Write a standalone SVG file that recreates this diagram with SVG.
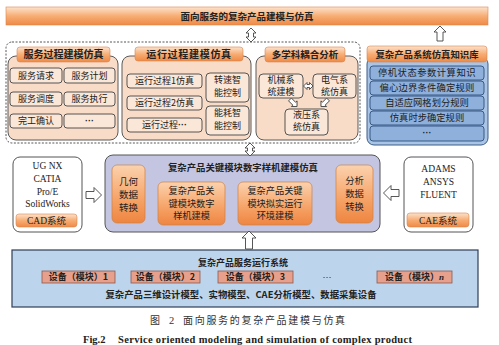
<svg xmlns="http://www.w3.org/2000/svg" width="499" height="345" viewBox="0 0 499 345">
<defs>
<linearGradient id="og" x1="0" y1="0" x2="0" y2="1">
<stop offset="0" stop-color="#fde3cd"/>
<stop offset="0.5" stop-color="#f7ad74"/>
<stop offset="1" stop-color="#ef8a45"/>
</linearGradient>
<linearGradient id="og2" x1="0" y1="0" x2="0" y2="1">
<stop offset="0" stop-color="#fbd2ae"/>
<stop offset="0.6" stop-color="#f6a266"/>
<stop offset="1" stop-color="#ee8540"/>
</linearGradient>
<style>
.t{font-family:"Noto Sans CJK SC","Noto Sans",sans-serif;font-size:9px;fill:#222;text-anchor:middle}
.b{font-weight:bold}
.d{font-family:"Liberation Sans",sans-serif;font-size:9px;fill:#222;text-anchor:middle;font-weight:bold}
.s{font-family:"Liberation Serif","Noto Sans CJK SC",serif;font-size:9.5px;fill:#222;text-anchor:middle}
.grp{fill:#f9dcc8;stroke:#5a5a5a;stroke-width:1}
.item{fill:#fbe7d8;stroke:#444;stroke-width:0.9}
.pill{fill:url(#og);stroke:#d98550;stroke-width:0.6}
.oitem{fill:url(#og2);stroke:#c9824c;stroke-width:0.7}
.kb{fill:#a9c4e4;stroke:#3d5f8a;stroke-width:1}
.kitem{fill:#8fb0da;stroke:#2c4f7c;stroke-width:0.9}
.dev{fill:#e6a08c;stroke:#8a5a50;stroke-width:0.8}
.arr{fill:#fff;stroke:#444;stroke-width:0.9}
</style>
</defs>
<rect width="499" height="345" fill="#fff"/>

<g id="top-bar">
<rect x="6" y="7" width="482" height="18" class="pill"/>
<text x="247" y="20" class="t b" style="font-size:9.5px">面向服务的复杂产品建模与仿真</text>
</g>

<g id="modeling-area">
<rect x="6" y="42" width="354" height="101" rx="6" fill="none" stroke="#444" stroke-width="0.9" stroke-dasharray="2 1.5"/>
</g>

<g id="service-process">
<rect x="8" y="56" width="110" height="84" rx="8" class="grp"/>
<rect x="17" y="47" width="93" height="15" rx="3" class="pill"/>
<text x="63.5" y="58" class="t b" style="font-size:10px">服务过程建模仿真</text>
<rect x="10" y="68" width="52" height="15" rx="3" class="item"/>
<text x="36" y="78.7" class="t">服务请求</text>
<rect x="64" y="68" width="51" height="15" rx="3" class="item"/>
<text x="89.5" y="78.7" class="t">服务计划</text>
<rect x="10" y="92" width="52" height="14" rx="3" class="item"/>
<text x="36" y="102.2" class="t">服务调度</text>
<rect x="64" y="92" width="51" height="14" rx="3" class="item"/>
<text x="89.5" y="102.2" class="t">服务执行</text>
<rect x="10" y="114" width="52" height="14" rx="3" class="item"/>
<text x="36" y="124.2" class="t">完工确认</text>
<rect x="64" y="114" width="51" height="14" rx="3" class="item"/>
<text x="89.5" y="123.5" class="d">···</text>
</g>

<g id="run-process">
<rect x="122" y="56" width="129" height="84" rx="8" class="grp"/>
<rect x="135" y="47" width="108" height="14" rx="3" class="pill"/>
<text x="189" y="57.6" class="t b" style="font-size:10px;letter-spacing:0.7px">运行过程建模仿真</text>
<rect x="127" y="74" width="75" height="14" rx="3" class="item"/>
<text x="164.5" y="84.2" class="t">运行过程1仿真</text>
<rect x="127" y="96" width="75" height="14" rx="3" class="item"/>
<text x="164.5" y="106.2" class="t">运行过程2仿真</text>
<rect x="127" y="118" width="75" height="14" rx="3" class="item"/>
<text x="164.5" y="128.2" class="t">运行过程<tspan font-family="Liberation Sans" font-weight="bold">···</tspan></text>
<rect x="206" y="73" width="43" height="29" rx="4" class="item"/>
<text x="227.5" y="83.3" class="t">转速智</text>
<text x="227.5" y="96.3" class="t">能控制</text>
<rect x="206" y="106" width="43" height="29" rx="4" class="item"/>
<text x="227.5" y="116.3" class="t">能耗智</text>
<text x="227.5" y="129.3" class="t">能控制</text>
</g>

<g id="multi-discipline">
<rect x="256" y="56" width="102" height="84" rx="8" class="grp"/>
<rect x="265" y="47" width="80" height="15" rx="3" class="pill"/>
<text x="305" y="58" class="t b" style="font-size:9.5px">多学科耦合分析</text>
<rect x="259" y="74" width="44" height="24" rx="4" class="item"/>
<text x="281" y="83.3" class="t">机械系</text>
<text x="281" y="95.3" class="t">统建模</text>
<rect x="313" y="74" width="43" height="24" rx="4" class="item"/>
<text x="334.5" y="83.3" class="t">电气系</text>
<text x="334.5" y="95.3" class="t">统仿真</text>
<rect x="285" y="109" width="43" height="26" rx="4" class="item"/>
<text x="306.5" y="118.3" class="t">液压系</text>
<text x="306.5" y="130.3" class="t">统仿真</text>
</g>

<g id="knowledge-base">
<rect x="367" y="57" width="121" height="88" rx="7" class="kb"/>
<rect x="367" y="46" width="120" height="16" rx="3" class="pill"/>
<text x="427" y="57.5" class="t b" style="font-size:9.4px">复杂产品系统仿真知识库</text>
<rect x="370" y="66" width="114" height="14" rx="3" class="kitem"/>
<text x="427" y="76.2" class="t" style="font-size:9.3px;letter-spacing:0.5px">停机状态参数计算知识</text>
<rect x="370" y="81" width="114" height="14" rx="3" class="kitem"/>
<text x="427" y="91.2" class="t" style="font-size:9.3px;letter-spacing:0.2px">偏心边界条件确定规则</text>
<rect x="370" y="96" width="114" height="14" rx="3" class="kitem"/>
<text x="427" y="106.2" class="t" style="font-size:9.3px">自适应网格划分规则</text>
<rect x="370" y="111" width="114" height="14" rx="3" class="kitem"/>
<text x="427" y="121.2" class="t" style="font-size:9.3px">仿真时步确定规则</text>
<rect x="370" y="126" width="114" height="15" rx="3" class="kitem"/>
<text x="427" y="135.8" class="d">···</text>
</g>

<g id="cad-system">
<rect x="13" y="157" width="69" height="75" rx="7" fill="#fff" stroke="#555" stroke-width="1"/>
<text x="47.5" y="169.3" class="s">UG NX</text>
<text x="47.5" y="182.3" class="s">CATIA</text>
<text x="47.5" y="194.8" class="s">Pro/E</text>
<text x="47.5" y="207.3" class="s">SolidWorks</text>
<rect x="16" y="214" width="61" height="13" rx="3" class="pill"/>
<text x="46.5" y="224" class="s">CAD系统</text>
</g>

<g id="digital-prototype">
<rect x="105" y="155" width="275" height="77" rx="8" fill="#c4c5e0" stroke="#555" stroke-width="1"/>
<text x="243" y="171.3" class="t b" style="font-size:9.4px">复杂产品关键模块数字样机建模仿真</text>
<rect x="112" y="165" width="33" height="58" rx="5" class="oitem"/>
<text x="128.5" y="185.3" class="t" style="font-size:9.5px">几何</text>
<text x="128.5" y="198.3" class="t" style="font-size:9.5px">数据</text>
<text x="128.5" y="211.3" class="t" style="font-size:9.5px">转换</text>
<rect x="158" y="182" width="67" height="43" rx="5" class="oitem"/>
<text x="191.5" y="194.3" class="t" style="font-size:9.2px">复杂产品关</text>
<text x="191.5" y="206.8" class="t" style="font-size:9.2px">键模块数字</text>
<text x="191.5" y="219.3" class="t" style="font-size:9.2px">样机建模</text>
<rect x="238" y="182" width="74" height="43" rx="5" class="oitem"/>
<text x="275" y="194.3" class="t" style="font-size:9.2px">复杂产品关键</text>
<text x="275" y="206.8" class="t" style="font-size:9.2px">模块拟实运行</text>
<text x="275" y="219.3" class="t" style="font-size:9.2px">环境建模</text>
<rect x="336" y="165" width="37" height="58" rx="5" class="oitem"/>
<text x="354.5" y="184.4" class="t" style="font-size:9.3px">分析</text>
<text x="354.5" y="197.2" class="t" style="font-size:9.3px">数据</text>
<text x="354.5" y="210" class="t" style="font-size:9.3px">转换</text>
</g>

<g id="cae-system">
<rect x="404" y="157" width="69" height="75" rx="7" fill="#fff" stroke="#555" stroke-width="1"/>
<text x="438.5" y="172.3" class="s">ADAMS</text>
<text x="438.5" y="185.3" class="s">ANSYS</text>
<text x="438.5" y="197.8" class="s">FLUENT</text>
<rect x="407" y="213" width="62" height="14" rx="3" class="pill"/>
<text x="438" y="223.5" class="s">CAE系统</text>
</g>

<g id="service-run-system">
<rect x="12" y="250" width="466" height="57" fill="#bcd5ec" stroke="#2f3f55" stroke-width="1.2"/>
<text x="243" y="266.3" class="t b">复杂产品服务运行系统</text>
<rect x="42" y="271" width="73" height="12" class="dev"/>
<text x="78.5" y="280.3" class="t b">设备（模块）1</text>
<rect x="131" y="271" width="69" height="12" class="dev"/>
<text x="165.5" y="280.3" class="t b">设备（模块）2</text>
<rect x="218" y="271" width="75" height="12" class="dev"/>
<text x="255.5" y="280.3" class="t b">设备（模块）3</text>
<text x="327" y="279.5" class="d" style="font-weight:normal">···</text>
<rect x="377" y="271" width="75" height="12" class="dev"/>
<text x="414.5" y="280.3" class="t b">设备（模块）<tspan font-family="Liberation Serif" font-style="italic">n</tspan></text>
<text x="241" y="298.3" class="t b" style="font-size:9.4px">复杂产品三维设计模型、实物模型、CAE分析模型、数据采集设备</text>
</g>

<g id="connectors">
<path class="arr" d="M251,28 L256,33 L253.5,33 L253.5,37 L256,37 L251,42 L246,37 L248.5,37 L248.5,33 L246,33 Z"/>
<path class="arr" d="M440,26 L446,32 L443,32 L443,41 L437,41 L437,32 L434,32 Z"/>
<path class="arr" d="M250,143 L255,148 L252.5,148 L252.5,151 L255,151 L250,156 L245,151 L247.5,151 L247.5,148 L245,148 Z"/>
<path class="arr" d="M249,231 L256,238 L252.5,238 L252.5,249 L245.5,249 L245.5,238 L242,238 Z"/>
<path class="arr" d="M86,191.5 L94,191.5 L94,187.5 L101.5,195 L94,202.5 L94,198.5 L86,198.5 Z"/>
<path class="arr" d="M399,189.5 L391,189.5 L391,185.5 L383.5,193 L391,200.5 L391,196.5 L399,196.5 Z"/>
<path class="arr" d="M303.5,86 L307,82.5 L307,84.5 L309.5,84.5 L309.5,82.5 L313,86 L309.5,89.5 L309.5,87.5 L307,87.5 L307,89.5 Z"/>
<path class="arr" transform="translate(293.5,103) rotate(-45)" d="M0,5 L4,1 L2,1 L2,-5 L-2,-5 L-2,1 L-4,1 Z"/>
<path class="arr" transform="translate(324.5,103) rotate(45)" d="M0,5 L4,1 L2,1 L2,-5 L-2,-5 L-2,1 L-4,1 Z"/>
</g>

<g id="caption">
<text x="150" y="323.5" font-family="Noto Sans CJK SC, sans-serif" font-size="10px" fill="#333">图</text>
<text x="169" y="323.5" font-family="Liberation Serif, serif" font-size="10.5px" fill="#333">2</text>
<text x="183" y="323.5" font-family="Noto Sans CJK SC, sans-serif" font-size="10px" fill="#333" style="letter-spacing:1.7px">面向服务的复杂产品建模与仿真</text>
<text x="83" y="342.5" font-family="Liberation Serif, serif" font-size="10.5px" font-weight="bold" fill="#222">Fig.2</text>
<text x="118" y="342.5" font-family="Liberation Serif, serif" font-size="10.5px" font-weight="bold" fill="#222" textLength="294" lengthAdjust="spacing">Service oriented modeling and simulation of complex product</text>
</g>
</svg>
